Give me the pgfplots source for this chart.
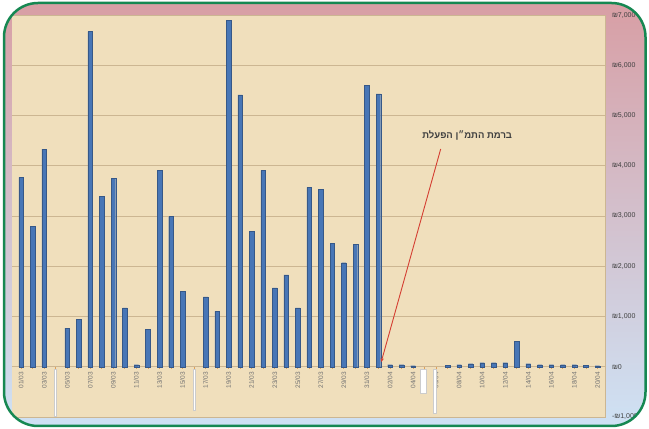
\documentclass[border=0pt]{standalone}
\usepackage{pgfplots}
\pgfplotsset{compat=1.18}
\usetikzlibrary{arrows.meta}
\usepackage{fontspec}
\setmainfont{Liberation Sans}
\newfontfamily\hebfont[Script=Hebrew]{Liberation Sans}
\TeXXeTstate=1
\definecolor{parch}{RGB}{240,223,188}
\definecolor{gridc}{RGB}{204,182,146}
\definecolor{barc}{RGB}{72,118,182}
\definecolor{pinkc}{RGB}{216,158,164}
\definecolor{lavc}{RGB}{214,198,224}
\definecolor{bluec}{RGB}{206,226,245}
\definecolor{greenb}{RGB}{22,136,82}
\definecolor{arrowc}{RGB}{212,62,50}
\definecolor{tickc}{RGB}{222,160,90}
\begin{document}
\begin{tikzpicture}[x=1pt,y=1pt]
\useasboundingbox (0,0) rectangle (649,429);
\begin{scope}
\clip[rounded corners=34pt] (4,3) rectangle (645.5,426);
\shade[top color=pinkc, middle color=lavc, bottom color=bluec] (0,0) rectangle (649,429);
\begin{axis}[
  at={(12.5pt,12pt)}, anchor=south west,
  width=593pt, height=402pt, scale only axis,
  xmin=-0.75, xmax=50.7, ymin=-1000, ymax=7000,
  axis background/.style={fill=parch},
  axis x line*=middle, axis y line*=right,
  axis line style={gridc, line width=0.8pt},
  ybar, bar width=4.6pt, bar shift=0pt,
  ytick={-1000,0,1000,2000,3000,4000,5000,6000,7000},
  yticklabels={{-₪1,000},{₪0},{₪1,000},{₪2,000},{₪3,000},{₪4,000},{₪5,000},{₪6,000},{₪7,000}},
  yticklabel style={font=\fontsize{7}{8}\selectfont, text=black!75, anchor=west, xshift=3pt},
  ytick style={draw=none},
  ymajorgrids, grid style={gridc, line width=0.8pt},
  xtick={0,...,50},
  xticklabels={01/03,,03/03,,05/03,,07/03,,09/03,,11/03,,13/03,,15/03,,17/03,,19/03,,21/03,,23/03,,25/03,,27/03,,29/03,,31/03,,02/04,,04/04,,06/04,,08/04,,10/04,,12/04,,14/04,,16/04,,18/04,,20/04},
  xticklabel style={rotate=90, anchor=east, font=\fontsize{6.5}{7}\selectfont, text=black!55},
  xtick style={draw=tickc, line width=0.8pt},
  major tick length=2pt,
  clip=false,
]
\addplot[fill=barc, draw=barc!75!black, line width=0.3pt] coordinates {
(0,3770) (1,2790) (2,4330) (4,770) (5,950) (6,6670) (7,3390) (8,3750) (9,1170)
(10,40) (11,750) (12,3910) (13,2990) (14,1500) (16,1390) (17,1100) (18,6900)
(19,5410) (20,2700) (21,3910) (22,1570) (23,1830) (24,1170) (25,3570) (26,3530)
(27,2450) (28,2070) (29,2430) (30,5600) (31,5430) (32,40) (33,40) (34,20)
(37,30) (38,40) (39,60) (40,80) (41,80) (42,80) (43,500) (44,60) (45,40)
(46,40) (47,40) (48,40) (49,30) (50,20)
};
\draw[black!20, fill=white, line width=0.3pt] (axis cs:2.9,-40) rectangle (axis cs:3.06,-990);
\draw[black!20, fill=white, line width=0.3pt] (axis cs:14.92,-40) rectangle (axis cs:15.08,-860);
\draw[black!20, fill=white, line width=0.3pt] (axis cs:34.65,-40) rectangle (axis cs:35.1,-530);
\draw[black!20, fill=white, line width=0.3pt] (axis cs:35.75,-40) rectangle (axis cs:36.05,-920);
\node[font=\hebfont\bfseries\fontsize{9.5}{10}\selectfont, text=black!75] at (axis cs:38.7,4593) {\beginR ברמת התמ״ן הפעלת\endR};
\draw[-{Stealth[length=4pt,width=3.5pt]}, arrowc, line width=0.9pt] (axis cs:36.4,4333) -- (axis cs:31.24,94);
\end{axis}
\end{scope}
\draw[greenb, line width=2.5pt, rounded corners=34pt] (4,3) rectangle (645.5,426);
\end{tikzpicture}
\end{document}
